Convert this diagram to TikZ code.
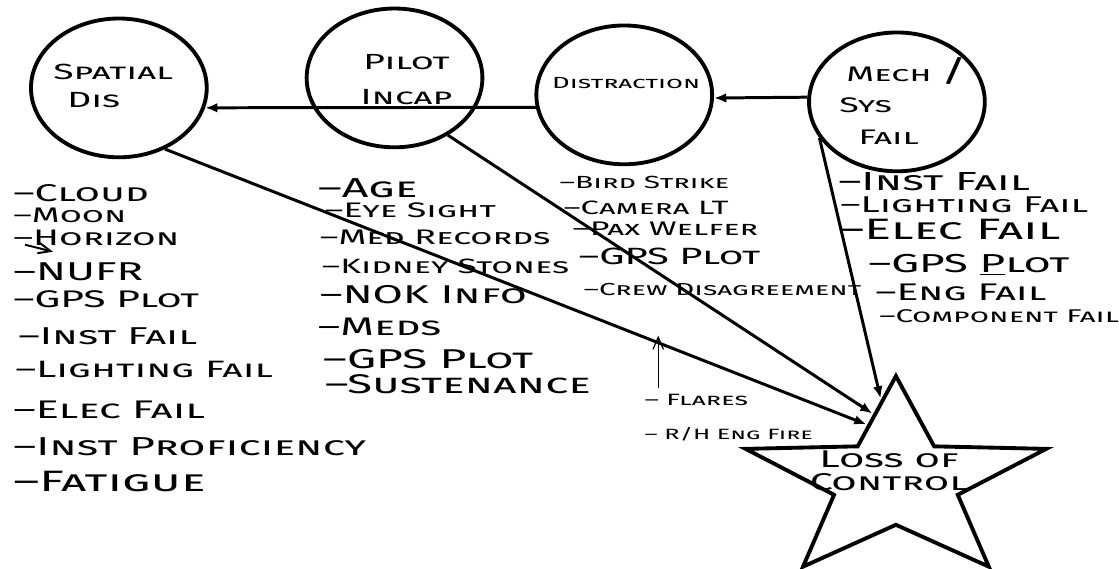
\documentclass[tikz,border=0pt]{standalone}
\usepackage{fontspec}
\newfontfamily\hand[FakeStretch=1.7]{Fira Sans}
\usetikzlibrary{arrows.meta}
\usetikzlibrary{shapes.geometric}

\tikzset{
  cause/.style = {draw, ellipse, line width=2.2pt, minimum width=3.52cm, minimum height=2.78cm, inner sep=0pt},
  item/.style = {anchor=west, inner sep=0pt, font=\hand\scshape\fontsize{#1}{#1}\selectfont},
  link/.style = {arrows = {-Latex[length=7pt,width=5.5pt]}, line width=1.7pt},
  note/.style = {arrows = {-Straight Barb[length=7pt,width=6pt]}, line width=0.7pt},
  lossstar/.style = {draw, star, star points=5, star point ratio=2.43, minimum size=4.22cm, inner sep=0pt, line width=2.2pt, transform shape}
}

\begin{document}
\begin{tikzpicture}[x=0.02cm, y=-0.02cm]
  \fill[white] (0,0) rectangle (1119,569);

  % the four causes
  \node (sd) [cause] at (119,88) {};
  \node (pi) [cause] at (395,78) {};
  \node (dist) [cause] at (625,95) {};
  \node (mech) [cause] at (898,102) {};

  \node (sdtext) [anchor=west, align=left, inner sep=0pt, font=\hand\scshape\fontsize{12.5}{16}\selectfont] at (53,86) {Spatial\\\hspace*{8pt}Dis};
  \node (pitext) [align=center, inner sep=0pt, font=\hand\scshape\fontsize{12.5}{19.8}\selectfont] at (407,80) {Pilot\\Incap};
  \node (disttext) [inner sep=0pt, font=\hand\scshape\fontsize{9.2}{9.2}\selectfont] at (627,83) {Distraction};
  \node (mechtext) [anchor=west, align=left, inner sep=0pt, font=\hand\scshape\fontsize{12}{17.9}\selectfont] at (840,101)
    {\hspace*{4pt}Mech\hspace{5pt}{\fontsize{17}{17}\selectfont/}\\Sys\\\hspace*{11pt}Fail};

  % the star
  \begin{scope}[shift={(897,482)}, xscale=1.5]
    \node (loc) [lossstar] at (0,0) {};
  \end{scope}
  \node (loctext) [align=center, inner sep=0pt, font=\hand\scshape\fontsize{13.8}{13}\selectfont] at (890,471) {Loss of\\Control};

  % lists under each cause
  \foreach \x/\y/\s/\txt [count=\i] in {13/193/13.8/Cloud, 13/216/12/Moon, 13/238/12.8/Horizon, 13/272/14.7/NUFR,
      13/300/13.7/GPS Plot, 18/337/13.9/Inst Fail, 15/370/13.5/Lighting Fail, 13/410/14.5/Elec Fail,
      13/447/14.8/Inst Proficiency, 13/482/16.8/Fatigue}{
    \node (sdl\i) [item=\s] at (\x,\y) {–\txt};
  }
  \foreach \x/\y/\s/\txt [count=\i] in {318/188/15.6/Age, 325/210/12/Eye Sight, 320/238/12/Med Records,
      322/267/11.8/Kidney Stones, 320/295/14.7/NOK Info, 318/327/14.5/Meds, 323/360/15.5/GPS Plot,
      325/385/15.4/Sustenance}{
    \node (pil\i) [item=\s] at (\x,\y) {–\txt};
  }
  \foreach \x/\y/\s/\txt [count=\i] in {560/183/10/Bird Strike, 564/208/11/Camera LT, 573/229/11.2/Pax Welfer,
      579/257/13.4/GPS Plot, 584/290/9.9/Crew Disagreement}{
    \node (distl\i) [item=\s] at (\x,\y) {–\txt};
  }
  \foreach \x/\y/\s/\txt [count=\i] in {839/182/14.9/Inst Fail, 841/205/13/Lighting Fail, 839/230/16.8/Elec Fail,
      869/265/14.8/GPS \underline{P}lot, 876/293/13.7/Eng Fail, 880/317/10.5/Component Fail}{
    \node (mechl\i) [item=\s] at (\x,\y) {–\txt};
  }

  % added later
  \node (flares) [item=9.3] at (645,400) {– Flares};
  \node (rhfire) [item=8.5] at (645,435) {– R/H Eng Fire};
  \coordinate (upbase) at (659,388);
  \coordinate (uptip) at (659,336);
  \draw [note] (upbase) -- (uptip);
  \coordinate (hzstart) at (25,245);
  \coordinate (hzend) at (53,252);
  \draw [note, line width=1.1pt] (hzstart) -- (hzend);

  % connectors
  \draw [link] (dist.188) -- (sd.-13);
  \draw [link] (mech.177) -- (dist.-2);
  \draw [link] (sd.-53) -- (loc.109);
  \draw [link] (pi.-47) -- (loc.103);
  \draw [link] (mech.205) -- (loc.97);
\end{tikzpicture}
\end{document}
